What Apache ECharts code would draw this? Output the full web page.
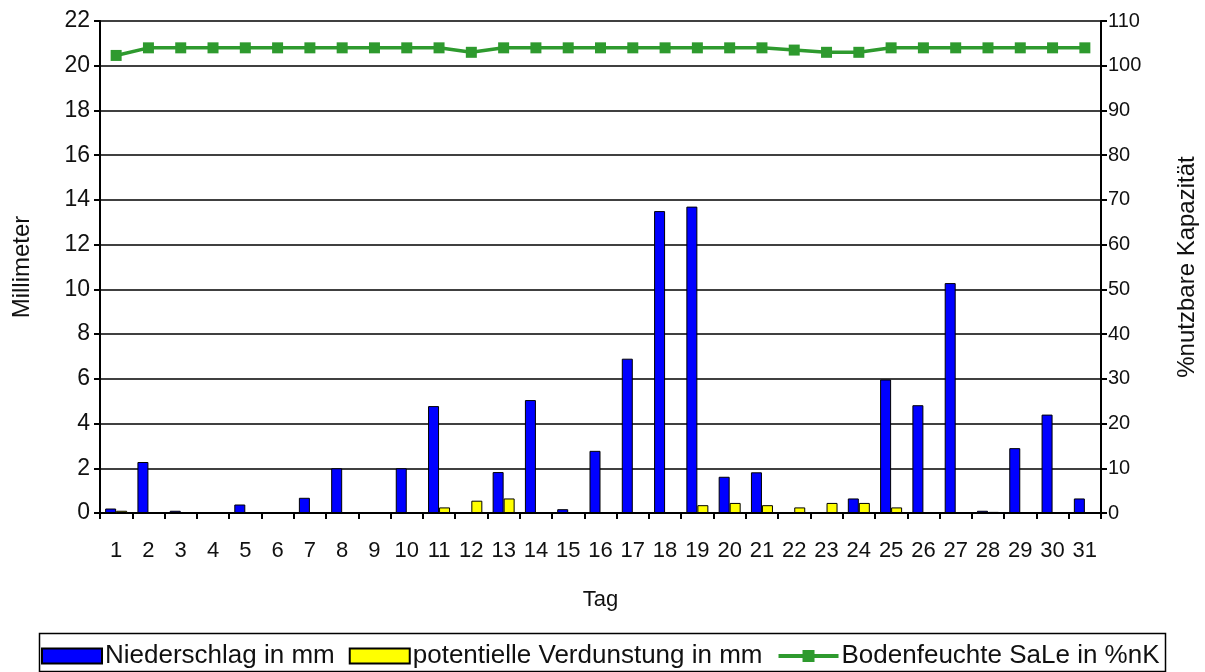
<!DOCTYPE html>
<html>
<head>
<meta charset="utf-8">
<script src="https://cdn.jsdelivr.net/npm/echarts@6/dist/echarts.min.js"></script>
<style>html,body{margin:0;padding:0;background:#fff;overflow:hidden}#c{width:1205px;height:672px}</style>
</head>
<body>
<div id="c"></div>
<script>
var days = ['1','2','3','4','5','6','7','8','9','10','11','12','13','14','15','16','17','18','19','20','21','22','23','24','25','26','27','28','29','30','31'];
var niederschlag = [0.2,2.28,0.1,0,0.38,0,0.68,2.0,0,2.0,4.78,0,1.83,5.05,0.17,2.78,6.9,13.5,13.7,1.62,1.82,0,0,0.65,5.97,4.82,10.28,0.1,2.9,4.4,0.65];
var verdunstung = [0.1,0,0,0,0,0,0,0,0,0,0.25,0.55,0.65,0,0,0,0,0,0.35,0.45,0.35,0.25,0.45,0.45,0.25,0,0,0.05,0,0,0];
var bodenfeuchte = [102.3,104,104,104,104,104,104,104,104,104,104,103,104,104,104,104,104,104,104,104,104,103.5,103,103,104,104,104,104,104,104,104];
var leftTicks = {min:0, max:22, interval:2};
var rightTicks = {min:0, max:110, interval:10};

var font = 'Liberation Sans, Arial, sans-serif';
var chart = echarts.init(document.getElementById('c'), null, {renderer:'canvas'});
chart.setOption({
  animation:false,
  backgroundColor:'#fff',
  grid:{left:100, right:104, top:21, bottom:159, containLabel:false, outerBoundsMode:'none'},
  graphic:[{type:'rect', left:37, top:631, shape:{width:1126, height:38}, style:{fill:'none', stroke:'#000', lineWidth:1.5}, z:-1}],
  legend:{
    left:41, top:643, padding:0, itemWidth:60, itemHeight:15, itemGap:14,
    textStyle:{fontFamily:font, fontSize:26, color:'#111', padding:[0,0,0,-2]},
    data:[{name:'Niederschlag in mm', icon:'rect'},{name:'potentielle Verdunstung in mm', icon:'rect'},{name:'Bodenfeuchte SaLe in %nK', lineStyle:{width:4}}]
  },
  xAxis:{
    type:'category', data:days, name:'Tag', nameLocation:'middle', nameGap:76,
    nameTextStyle:{fontFamily:font, fontSize:22, color:'#111'},
    axisLine:{lineStyle:{color:'#000', width:2}},
    axisTick:{show:true, length:6, inside:false, lineStyle:{color:'#000', width:2}},
    axisLabel:{fontFamily:font, fontSize:22, color:'#111', margin:27, interval:0}
  },
  yAxis:[{
    type:'value', min:leftTicks.min, max:leftTicks.max, interval:leftTicks.interval,
    name:'Millimeter', nameLocation:'middle', nameGap:66, nameRotate:90,
    nameTextStyle:{fontFamily:font, fontSize:24, color:'#111'},
    axisLine:{show:true, lineStyle:{color:'#000', width:2}},
    axisTick:{show:true, length:6, lineStyle:{color:'#000', width:2}},
    axisLabel:{fontFamily:font, fontSize:23, color:'#111', margin:10},
    splitLine:{show:true, lineStyle:{color:'#000', width:1.5}}
  },{
    type:'value', position:'right', min:rightTicks.min, max:rightTicks.max, interval:rightTicks.interval,
    name:'%nutzbare Kapazität', nameLocation:'middle', nameGap:74, nameRotate:90,
    nameTextStyle:{fontFamily:font, fontSize:24, color:'#111'},
    axisLine:{show:true, lineStyle:{color:'#000', width:2}},
    axisTick:{show:true, length:6, lineStyle:{color:'#000', width:2}},
    axisLabel:{fontFamily:font, fontSize:20, color:'#111', margin:7},
    splitLine:{show:false}
  }],
  series:[{
    name:'Niederschlag in mm', type:'bar', data:niederschlag, barWidth:11, barGap:'0%',
    itemStyle:{color:'#0000FF', borderColor:'#000', borderWidth:1}
  },{
    name:'potentielle Verdunstung in mm', type:'bar', data:verdunstung, barWidth:11, barGap:'0%',
    itemStyle:{color:'#FFFF00', borderColor:'#000', borderWidth:1}
  },{
    name:'Bodenfeuchte SaLe in %nK', type:'line', yAxisIndex:1, data:bodenfeuchte,
    symbol:'rect', symbolSize:11, lineStyle:{color:'#2E9A2E', width:3.5},
    itemStyle:{color:'#2E9A2E'}
  }]
});
</script>
</body>
</html>
